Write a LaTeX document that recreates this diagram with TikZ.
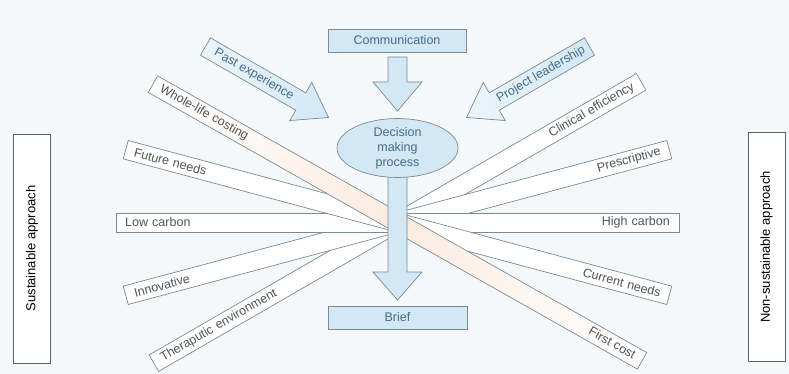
\documentclass[tikz,border=0pt]{standalone}
\usepackage{fontspec}
\setmainfont{Liberation Sans}
\usetikzlibrary{shapes.geometric}
\definecolor{bg}{HTML}{F4F8FA}
\definecolor{edge}{HTML}{7D8A92}
\definecolor{paleblue}{HTML}{D2E8F5}
\definecolor{bluetext}{HTML}{4A6A86}
\definecolor{labeltext}{HTML}{505558}
\definecolor{peach}{HTML}{FBEBE0}

\begin{document}
\begin{tikzpicture}[x=1pt,y=-1pt,
  every node/.style={font=\fontsize{12.5}{15}\selectfont},
  band/.style={draw=edge, line width=0.7pt, fill=white, minimum height=19pt,
    inner xsep=9pt, inner ysep=0pt, text width=263pt, text=labeltext},
  leftband/.style={band, align=left, anchor=east},
  rightband/.style={band, align=right, anchor=west},
  bluebox/.style={draw=edge, line width=0.7pt, fill=paleblue, minimum width=138pt,
    minimum height=23pt, inner sep=0pt, text=bluetext},
  blockarrow/.style={draw=edge, line width=0.7pt, fill=paleblue, line join=miter},
  sidebox/.style={draw=edge!70!black, line width=0.7pt, fill=white, minimum width=229pt,
    minimum height=37pt, inner sep=0pt, rotate=90, font=\fontsize{13}{15}\selectfont}
]
\fill[bg] (0,0) rectangle (789,374);
\useasboundingbox (0,0) rectangle (789,374);
\coordinate (hub) at (397.5,222.5);

% fan of bands, left half
\node[leftband, rotate=30]  (thera)  at (hub) {Theraputic environment};
\node[leftband, rotate=15]  (innov)  at (hub) {Innovative};
\node[leftband]             (lowc)   at (hub) {Low carbon};
\node[leftband, rotate=-15] (future) at (hub) {Future needs};
% fan of bands, right half
\node[rightband, rotate=30]  (clin)  at (hub) {Clinical efficiency};
\node[rightband, rotate=15]  (presc) at (hub) {Prescriptive};
\node[rightband]             (highc) at (hub) {High carbon};
\node[rightband, rotate=-15] (curr)  at (hub) {Current needs};
% the long cost band crossing the hub
\node[band, text width=544pt, align=left, rotate=-29.5,
  left color=white, right color=white, middle color=peach] (cost) at (hub)
  {Whole-life costing\hfill First cost};

% decision arrow down to the brief
\draw[blockarrow] (388,170) -- (388,272) -- (373,272) -- (397.5,300)
  -- (422,272) -- (407,272) -- (407,170) -- cycle;
\node[ellipse, draw=edge, line width=0.7pt, fill=paleblue, minimum width=121pt,
  minimum height=58pt, inner sep=0pt, align=center, text=bluetext] (dec) at (397.5,148)
  {Decision\\making\\process};

% communication input
\node[bluebox] (comm) at (397,40.5) {Communication};
\draw[blockarrow] (388,57) -- (388,82) -- (373,82) -- (397.5,111)
  -- (422,82) -- (407,82) -- (407,57) -- cycle;

\node[bluebox, minimum width=139pt] (brief) at (397.5,317.5) {Brief};

% side inputs
\begin{scope}[shift={(205.5,46.5)}, rotate=-30]
  \draw[blockarrow, left color=paleblue!45!white, right color=paleblue]
    (0,-10) -- (110,-10) -- (110,-22) -- (142,0) -- (110,22) -- (110,10) -- (0,10) -- cycle;
  \node[rotate=-30, text=bluetext] (past) at (56,0) {Past experience};
\end{scope}
\begin{scope}[shift={(589.5,46.5)}, rotate=-150]
  \draw[blockarrow, left color=paleblue!45!white, right color=paleblue]
    (0,-10) -- (110,-10) -- (110,-22) -- (142,0) -- (110,22) -- (110,10) -- (0,10) -- cycle;
  \node[rotate=30, text=bluetext] (lead) at (56,0) {Project leadership};
\end{scope}

% approach panels
\node[sidebox] (sust) at (32,248.5) {Sustainable approach};
\node[sidebox] (nonsust) at (766.5,247) {Non-sustainable approach};
\end{tikzpicture}
\end{document}
